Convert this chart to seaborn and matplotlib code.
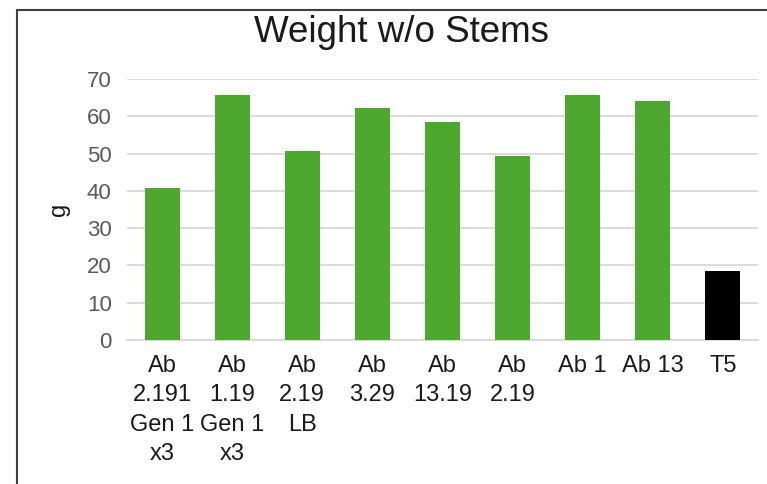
import matplotlib
matplotlib.use("Agg")
import matplotlib.pyplot as plt
from matplotlib.lines import Line2D
import seaborn as sns
import pandas as pd

categories = ["Ab\n2.191\nGen 1\nx3", "Ab\n1.19\nGen 1\nx3", "Ab\n2.19\nLB", "Ab\n3.29",
              "Ab\n13.19", "Ab\n2.19", "Ab 1", "Ab 13", "T5"]
values = [40.8, 65.8, 50.6, 62.1, 58.5, 49.4, 65.6, 64.2, 18.4]
colors = ["#4ea72e"] * 8 + ["#000000"]
y_ticks = [0, 10, 20, 30, 40, 50, 60, 70]
title = "Weight w/o Stems"
y_label = "g"

df = pd.DataFrame({"cat": categories, "val": values})

sns.set_theme(style="white")
plt.rcParams["font.family"] = ["Liberation Sans", "DejaVu Sans"]

W, H = 767, 484
fig = plt.figure(figsize=(W / 100, H / 100), dpi=100)
ax = fig.add_axes([127 / W, 1 - 340 / H, (758 - 127) / W, (340 - 79) / H])

sns.barplot(data=df, x="cat", y="val", hue="cat", palette=colors, legend=False,
            width=0.5, saturation=1, ax=ax, zorder=3)
for p in ax.patches:
    p.set_linewidth(0)

ax.set_ylim(0, 70)
ax.set_yticks(y_ticks)
ax.set_xlim(-0.5, len(categories) - 0.5)
ax.yaxis.grid(True, color="#d9d9d9", linewidth=1.3, zorder=0)
ax.set_axisbelow(True)
for s in ["top", "right", "left"]:
    ax.spines[s].set_visible(False)
ax.spines["bottom"].set_color("#d9d9d9")
ax.spines["bottom"].set_linewidth(1.3)
ax.tick_params(axis="y", length=0, pad=11, labelsize=16, labelcolor="#595959")
ax.tick_params(axis="x", length=0, pad=11, labelsize=17, labelcolor="#1a1a1a")
for t in ax.get_xticklabels():
    t.set_linespacing(1.42)
ax.set_xlabel("")
ax.set_ylabel(y_label, fontsize=17, color="#1a1a1a", labelpad=12)

fig.text(401 / W, 1 - 33 / H, title, ha="center", va="center", fontsize=26.5, color="#1a1a1a")

# chart border (top and left edges visible)
fig.add_artist(Line2D([17 / W, 1.0], [1 - 10 / H, 1 - 10 / H], transform=fig.transFigure,
                      color="#404040", linewidth=1.5))
fig.add_artist(Line2D([17 / W, 17 / W], [0, 1 - 10 / H], transform=fig.transFigure,
                      color="#404040", linewidth=1.5))

fig.savefig("out.png", dpi=100, facecolor="white")
